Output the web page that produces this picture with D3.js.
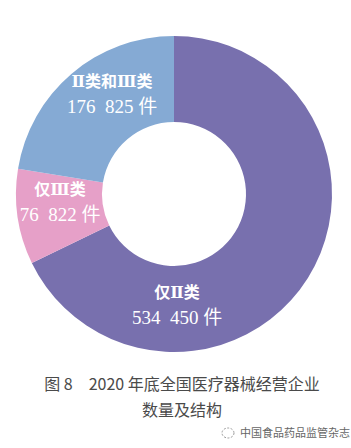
<!DOCTYPE html>
<html><head><meta charset="utf-8">
<script src="https://cdn.jsdelivr.net/npm/d3@7"></script>
<style>body{margin:0;background:#fff}svg{display:block}</style>
</head><body>
<svg id="c" width="351" height="448"></svg>
<script>
const categories = ["仅Ⅱ类", "仅Ⅲ类", "Ⅱ类和Ⅲ类"];
const values = [534450, 76822, 176825];
const valueLabels = ["534\u2002450 件", "76\u2002822 件", "176\u2002825 件"];
const colors = ["#7870ae", "#e6a0c8", "#85aad4"];
const captionLines = ["图 8\u20032020 年底全国医疗器械经营企业", "数量及结构"];
const watermark = "中国食品药品监管杂志";

const svg = d3.select("#c");
const cx = 174, cy = 194, rOuter = 158, rInner = 72;
const g = svg.append("g").attr("transform", `translate(${cx},${cy})`);
const data = categories.map((c, i) => ({c, v: values[i], lab: valueLabels[i], col: colors[i]}));
const pie = d3.pie().value(d => d.v).sort(null);
const arc = d3.arc().innerRadius(rInner).outerRadius(rOuter);
const arcs = pie(data);
g.selectAll("path").data(arcs).enter().append("path")
  .attr("d", arc).attr("fill", d => d.data.col);

const serif = "'Liberation Serif','Times New Roman','DejaVu Serif','Noto Sans CJK SC',serif";
const labelPos = [[3, 104], [-114, 1], [-62, -107]];
arcs.forEach((a, i) => {
  const [x, y] = labelPos[i];
  const t = g.append("g").attr("transform", `translate(${x},${y})`);
  t.append("text").attr("text-anchor", "middle").attr("y", 0)
    .attr("fill", "#fff").attr("font-size", 16).attr("font-weight", "bold")
    .attr("font-family", serif)
    .text(a.data.c);
  t.append("text").attr("text-anchor", "middle").attr("y", 26)
    .attr("fill", "#fff").attr("font-size", 19)
    .attr("font-family", serif)
    .text(a.data.lab);
});

svg.selectAll("text.cap").data(captionLines).enter().append("text")
  .attr("class", "cap").attr("x", 182).attr("y", (d, i) => 390 + i * 26)
  .attr("text-anchor", "middle").attr("fill", "#4a4a4a").attr("font-size", 16)
  .attr("font-family", "'Noto Sans CJK SC','Noto Sans',sans-serif")
  .text(d => d);

const wm = svg.append("g").attr("transform", "translate(228,437)");
wm.append("ellipse").attr("cx", 0).attr("cy", -4).attr("rx", 6).attr("ry", 5)
  .attr("fill", "none").attr("stroke", "#999").attr("stroke-width", 1).attr("stroke-dasharray", "2,1.5");
wm.append("text").attr("x", 12).attr("y", 0).attr("fill", "#666").attr("font-size", 11)
  .attr("font-family", "'Noto Sans CJK SC',sans-serif").text(watermark);
</script>
</body></html>
